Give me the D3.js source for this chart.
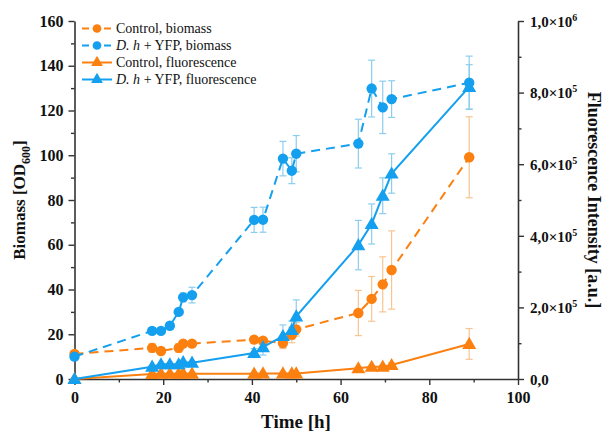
<!DOCTYPE html>
<html>
<head>
<meta charset="utf-8">
<script src="https://cdn.jsdelivr.net/npm/d3@7"></script>
<style>
  body { margin: 0; background: #fff; }
  svg text { font-family: "Liberation Serif", "Times New Roman", Tinos, "DejaVu Serif", serif !important; }
</style>
</head>
<body>
<div id="chart"></div>
<script>
// sampling times [h]
var time = [0, 17.5, 19.5, 21.5, 23.5, 24.5, 26.5, 40.5, 42.5, 47, 49, 50, 64, 67, 69.5, 71.5, 89];

// biomass (OD600), null = not measured
var ctrlBio    = [11.2, 13.9, 12.5, null, 13.9, 15.8, 15.8, 17.6, 17.1, 16.1, 19.7, 22.2, 29.5, 35.8, 42.3, 48.7, 99.1];
var ctrlBioErr = [0.8, 2, 1, null, 2, 1, 1, 1.2, 1, 2.5, 3.5, 3, 10.1, 10, 12.3, 17.5, 18.1];
var dhBio      = [10.0, 21.5, 21.5, 23.8, 30.0, 36.5, 37.5, 71.1, 71.2, 98.5, 93.1, 100.7, 105.2, 129.8, 121.4, 125.1, 132.4];
var dhBioErr   = [0.8, 1.5, 1, 1, 1, 2, 3.5, 5.6, 5.6, 7.7, 5.8, 8.1, 10.9, 12.7, 11.7, 8.2, 11.9];

// fluorescence [a.u.]
var ctrlFl    = [0, 14000, 15000, 15000, 15000, 15500, 15000, 15000, 15500, 15500, 15500, 15500, 30000, 34000, 34500, 39000, 98000];
var ctrlFlErr = [0, 3000, 2000, 2000, 2000, 2000, 2000, 2000, 2000, 2000, 2000, 2000, 4000, 4000, 4000, 6000, 43000];
var dhFl      = [0, 34400, 41000, 41000, 41000, 47000, 45600, 72500, 88800, 120000, 137000, 175000, 374000, 433000, 512000, 574000, 816000];
var dhFlErr   = [0, 3000, 3000, 3000, 3000, 3000, 3000, 12500, 22000, 31000, 25000, 46000, 69000, 56000, 50000, 55000, 62000];

var xTicks = [0, 20, 40, 60, 80, 100];
var yTicks = [0, 20, 40, 60, 80, 100, 120, 140, 160];
var y2Ticks = [0, 200000, 400000, 600000, 800000, 1000000];

var orange = "#fb8010", orangeLight = "#f7c590";
var blue = "#14a0ee", blueLight = "#8ccdee";
var serif = "'Liberation Serif', 'Times New Roman', Tinos, 'DejaVu Serif', serif";

var W = 603, H = 435;
var svg = d3.select("#chart").append("svg").attr("width", W).attr("height", H)
  .attr("font-family", serif);

var x = d3.scaleLinear().domain([0, 100]).range([74.5, 518]);
var y = d3.scaleLinear().domain([0, 160]).range([379, 21]);
var y2 = d3.scaleLinear().domain([0, 1000000]).range([379, 21]);

// axes
function styleAxis(g) {
  g.attr("font-family", serif);
  g.select(".domain").attr("stroke", "#333").attr("stroke-width", 1.6);
  g.selectAll(".tick line").attr("stroke", "#333").attr("stroke-width", 1.4);
  g.selectAll(".tick text").attr("font-size", 16).attr("font-weight", "bold").attr("fill", "#111");
}
function minor(g) {
  g.select(".domain").remove();
  g.selectAll("line").attr("stroke", "#333").attr("stroke-width", 1.4);
}

var gx = svg.append("g").attr("transform", "translate(0,379)")
  .call(d3.axisBottom(x).tickValues(xTicks).tickSize(6).tickSizeOuter(0).tickPadding(7));
styleAxis(gx);
svg.append("g").attr("transform", "translate(0,379)")
  .call(d3.axisBottom(x).tickValues(d3.range(10, 100, 20)).tickSize(3.5).tickFormat("")).call(minor);

var gy = svg.append("g").attr("transform", "translate(74.5,0)")
  .call(d3.axisLeft(y).tickValues(yTicks).tickSize(6).tickSizeOuter(0).tickPadding(5));
styleAxis(gy);
svg.append("g").attr("transform", "translate(74.5,0)")
  .call(d3.axisLeft(y).tickValues(d3.range(10, 160, 20)).tickSize(3.5).tickFormat("")).call(minor);

var gy2 = svg.append("g").attr("transform", "translate(518,0)")
  .call(d3.axisRight(y2).tickValues(y2Ticks).tickSize(6).tickSizeOuter(0).tickPadding(6).tickFormat(""));
styleAxis(gy2);
svg.append("g").attr("transform", "translate(518,0)")
  .call(d3.axisRight(y2).tickValues(d3.range(100000, 1000000, 200000)).tickSize(3.5).tickFormat("")).call(minor);

// right tick labels like 2,0×10^5
gy2.selectAll(".tick").each(function(d) {
  var t = d3.select(this).append("text").attr("x", 12).attr("dy", "0.35em")
    .attr("font-size", 15).attr("font-weight", "bold").attr("fill", "#111");
  if (d === 0) { t.text("0,0"); return; }
  var e = Math.floor(Math.log10(d) + 1e-9), m = d / Math.pow(10, e);
  t.append("tspan").text(m.toFixed(1).replace(".", ",") + "×10");
  t.append("tspan").attr("dy", -6).attr("font-size", 10).text(e);
});

// series
var series = [
  { v: ctrlBio, e: ctrlBioErr, s: y, c: orange, cl: orangeLight, dash: "9,6", shape: "circle" },
  { v: dhBio, e: dhBioErr, s: y, c: blue, cl: blueLight, dash: "9,6", shape: "circle" },
  { v: ctrlFl, e: ctrlFlErr, s: y2, c: orange, cl: orangeLight, dash: null, shape: "triangle" },
  { v: dhFl, e: dhFlErr, s: y2, c: blue, cl: blueLight, dash: null, shape: "triangle" }
];

var circleSym = d3.symbol().type(d3.symbolCircle).size(85);
var triSym = d3.symbol().type(d3.symbolTriangle).size(85);

// error bars first
series.forEach(function(sr) {
  var pts = time.map(function(t, i) { return { t: t, v: sr.v[i], e: sr.e[i] }; })
    .filter(function(p) { return p.v != null; });
  var g = svg.append("g").attr("stroke", sr.cl).attr("stroke-width", 1.2);
  pts.forEach(function(p) {
    if (!p.e) return;
    var xx = x(p.t), y0 = sr.s(p.v - p.e), y1 = sr.s(p.v + p.e);
    g.append("line").attr("x1", xx).attr("x2", xx).attr("y1", y0).attr("y2", y1);
    g.append("line").attr("x1", xx - 3.5).attr("x2", xx + 3.5).attr("y1", y0).attr("y2", y0);
    g.append("line").attr("x1", xx - 3.5).attr("x2", xx + 3.5).attr("y1", y1).attr("y2", y1);
  });
});

series.forEach(function(sr) {
  var pts = time.map(function(t, i) { return { t: t, v: sr.v[i] }; })
    .filter(function(p) { return p.v != null; });
  var line = d3.line().x(function(p) { return x(p.t); }).y(function(p) { return sr.s(p.v); });
  svg.append("path").datum(pts).attr("d", line).attr("fill", "none")
    .attr("stroke", sr.c).attr("stroke-width", 2).attr("stroke-dasharray", sr.dash);
  svg.append("g").selectAll("path").data(pts).enter().append("path")
    .attr("transform", function(p) { return "translate(" + x(p.t) + "," + (sr.s(p.v) + (sr.shape === "triangle" ? 1 : 0)) + ")"; })
    .attr("d", sr.shape === "circle" ? circleSym : triSym)
    .attr("fill", sr.c);
});

// legend
var legend = [
  { c: orange, dash: "7,4", shape: "circle", parts: [["Control, biomass", false]] },
  { c: blue, dash: "7,4", shape: "circle", parts: [["D. h", true], [" + YFP, biomass", false]] },
  { c: orange, dash: null, shape: "triangle", parts: [["Control, fluorescence", false]] },
  { c: blue, dash: null, shape: "triangle", parts: [["D. h", true], [" + YFP, fluorescence", false]] }
];
legend.forEach(function(l, i) {
  var ly = 28.5 + i * 17;
  var g = svg.append("g");
  g.append("line").attr("x1", 82).attr("x2", 112).attr("y1", ly).attr("y2", ly)
    .attr("stroke", l.c).attr("stroke-width", 2).attr("stroke-dasharray", l.dash);
  g.append("path").attr("transform", "translate(97," + ly + ")")
    .attr("d", l.shape === "circle" ? d3.symbol().type(d3.symbolCircle).size(60) : d3.symbol().type(d3.symbolTriangle).size(60))
    .attr("fill", l.c);
  var t = g.append("text").attr("x", 116).attr("y", ly).attr("dy", "0.35em").attr("font-size", 14).attr("fill", "#111");
  l.parts.forEach(function(p) {
    t.append("tspan").attr("font-style", p[1] ? "italic" : "normal").text(p[0]);
  });
});

// axis titles
svg.append("text").attr("x", 296).attr("y", 428).attr("text-anchor", "middle")
  .attr("font-size", 19).attr("font-weight", "bold").attr("fill", "#111").text("Time [h]");

var yt = svg.append("text").attr("transform", "translate(25,200) rotate(-90)").attr("text-anchor", "middle")
  .attr("font-size", 17).attr("font-weight", "bold").attr("fill", "#111");
yt.append("tspan").text("Biomass [OD");
yt.append("tspan").attr("font-size", 12).attr("dy", 5).text("600");
yt.append("tspan").attr("dy", -5).text("]");

svg.append("text").attr("transform", "translate(588,200) rotate(90)").attr("text-anchor", "middle")
  .attr("font-size", 18).attr("font-weight", "bold").attr("fill", "#111").text("Fluorescence Intensity [a.u.]");
</script>
</body>
</html>
